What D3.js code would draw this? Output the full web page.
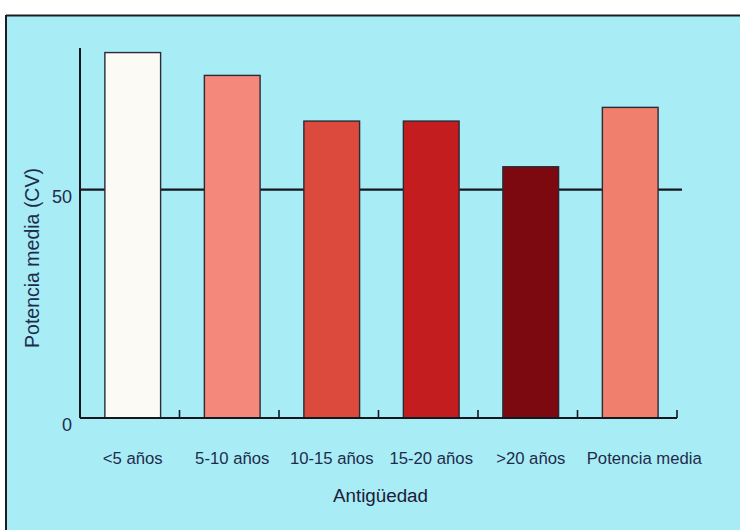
<!DOCTYPE html>
<html>
<head>
<meta charset="utf-8">
<script src="https://cdn.jsdelivr.net/npm/d3@7"></script>
<style>
  html, body { margin: 0; padding: 0; background: #ffffff; }
  #chart { width: 740px; height: 530px; }
</style>
</head>
<body>
<div id="chart"></div>
<script>
'use strict'

// data
const categories = ["<5 años", "5-10 años", "10-15 años", "15-20 años", ">20 años", "Potencia media"]
const values = [80, 75, 65, 65, 55, 68]
const yTicks = [0, 50]
const refValue = 50

////////////////////////////////////
//////////// svg setup /////////////
////////////////////////////////////

const svgWidth = 740
const svgHeight = 530

const margin = { left: 80, right: 63, top: 48, bottom: 112 }
const width = svgWidth - margin.left - margin.right
const height = svgHeight - margin.top - margin.bottom

const textColor = '#1f2b4a'
const lineColor = '#16161f'
const font = '"Liberation Sans", Arial, sans-serif'

const root = d3.select('#chart')
    .append('svg')
    .attr('width', svgWidth)
    .attr('height', svgHeight)

// light cyan panel with a dark frame top and left
root.append('rect')
    .attr('x', 6).attr('y', 15)
    .attr('width', svgWidth - 6).attr('height', svgHeight - 15)
    .attr('fill', '#a8edf6')

root.append('line')
    .attr('x1', 6).attr('x2', svgWidth).attr('y1', 15.5).attr('y2', 15.5)
    .attr('stroke', '#1c1c24').attr('stroke-width', 2)

root.append('line')
    .attr('x1', 6).attr('x2', 6).attr('y1', 15).attr('y2', svgHeight)
    .attr('stroke', '#1c1c24').attr('stroke-width', 2)

const svg = root.append('g')
    .attr('transform', `translate(${margin.left},${margin.top})`)

////////////////////////////////////
//////////// Scales ////////////////
////////////////////////////////////

const x = d3.scaleBand()
    .domain(categories)
    .range([0, width])
    .padding(0)

const y = d3.scaleLinear()
    .domain([0, 81])
    .range([height, 0])

const colorScale = d3.scaleOrdinal()
    .domain(categories)
    .range(["#fbfaf5", "#f3887b", "#dc4a3e", "#c41d20", "#7b090f", "#f07f6d"])

const barOffset = x.bandwidth() * 0.25
const barWidth = x.bandwidth() * 0.56

////////////////////////////////////
//////////// add to DOM ////////////
////////////////////////////////////

// reference line at 50, behind the bars
svg.append('line')
    .attr('x1', 0)
    .attr('x2', width + 5)
    .attr('y1', y(refValue))
    .attr('y2', y(refValue))
    .attr('stroke', lineColor)
    .attr('stroke-width', 2.2)

// bars
svg.selectAll('.bar')
    .data(categories)
    .join('rect')
    .attr('class', 'bar')
    .attr('x', d => x(d) + barOffset)
    .attr('y', (d, i) => y(values[i]))
    .attr('width', barWidth)
    .attr('height', (d, i) => y(0) - y(values[i]))
    .attr('fill', d => colorScale(d))
    .attr('stroke', '#2b2a36')
    .attr('stroke-width', 1.4)

// y axis line
svg.append('line')
    .attr('x1', 0).attr('x2', 0)
    .attr('y1', 0).attr('y2', y(0))
    .attr('stroke', lineColor)
    .attr('stroke-width', 2)

// x axis line with small upward ticks at slot ends
svg.append('line')
    .attr('x1', 0).attr('x2', width)
    .attr('y1', y(0)).attr('y2', y(0))
    .attr('stroke', lineColor)
    .attr('stroke-width', 2)

svg.selectAll('.xtick')
    .data(categories)
    .join('line')
    .attr('class', 'xtick')
    .attr('x1', d => x(d) + x.bandwidth())
    .attr('x2', d => x(d) + x.bandwidth())
    .attr('y1', y(0))
    .attr('y2', y(0) - 8)
    .attr('stroke', lineColor)
    .attr('stroke-width', 1.6)

// y tick labels
svg.selectAll('.ytick')
    .data(yTicks)
    .join('text')
    .attr('class', 'ytick')
    .attr('x', -8)
    .attr('y', d => y(d) + 13)
    .attr('text-anchor', 'end')
    .style('font-family', font)
    .style('font-size', '18px')
    .style('fill', textColor)
    .text(d => d)

// category labels
svg.selectAll('.xlabel')
    .data(categories)
    .join('text')
    .attr('class', 'xlabel')
    .attr('x', (d, i) => x(d) + barOffset + barWidth / 2 + (i == categories.length - 1 ? 14 : 0))
    .attr('y', y(0) + 46)
    .attr('text-anchor', 'middle')
    .style('font-family', font)
    .style('font-size', '16.7px')
    .style('fill', textColor)
    .text(d => d)

// axis titles
svg.append('text')
    .attr('x', width / 2 + 2)
    .attr('y', y(0) + 84)
    .attr('text-anchor', 'middle')
    .style('font-family', font)
    .style('font-size', '18.8px')
    .style('fill', '#1c2038')
    .text('Antigüedad')

svg.append('text')
    .attr('transform', `translate(${-41},${210}) rotate(-90)`)
    .attr('text-anchor', 'middle')
    .style('font-family', font)
    .style('font-size', '19.5px')
    .style('fill', textColor)
    .text('Potencia media (CV)')
</script>
</body>
</html>
